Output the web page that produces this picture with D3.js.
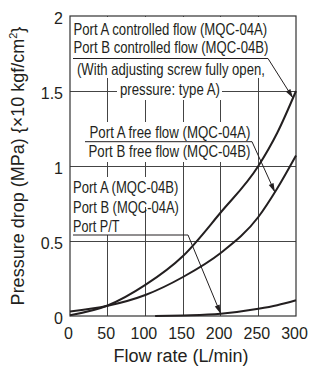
<!DOCTYPE html>
<html>
<head>
<meta charset="utf-8">
<script src="https://cdn.jsdelivr.net/npm/d3@7"></script>
<style>
body { margin: 0; background: #fff; }
svg { display: block; }
</style>
</head>
<body>
<div id="canvas"></div>
<script>
"use strict"

/* Data: flow rate (L/min) vs pressure drop (MPa) */
let flowTicks = [0, 50, 100, 150, 200, 250, 300];
let pressureTicks = [0, 0.5, 1, 1.5, 2];

/* controlled flow curve (MQC-04A port A / MQC-04B port B) */
let ctrlFlow = [0, 50, 100, 150, 200, 250, 275, 300];
let ctrlDrop = [0.005, 0.07, 0.207, 0.4, 0.69, 1.0, 1.22, 1.5];

/* free flow curve */
let freeFlow = [0, 50, 100, 150, 200, 250, 275, 300];
let freeDrop = [0.03, 0.068, 0.14, 0.26, 0.42, 0.66, 0.85, 1.07];

/* port P/T */
let ptFlow = [113, 150, 200, 250, 275, 300];
let ptDrop = [0, 0.004, 0.015, 0.048, 0.072, 0.105];

/* Configuration: drawing */
let svgWidth = 313;
let svgHeight = 367;
let ink = "#231f20";
let sans = "'Liberation Sans', Arial, Helvetica, sans-serif";
let narrow = "'Liberation Sans Narrow', 'Arial Narrow', 'Liberation Sans', Arial, sans-serif";

let svg = d3.select("#canvas")
    .append("svg")
    .attr("width", svgWidth)
    .attr("height", svgHeight);

let x = d3.scaleLinear().domain([0, 300]).range([70, 296]);
let y = d3.scaleLinear().domain([0, 2]).range([316, 16]);

/* grid */
let grid = svg.append("g")
    .attr("stroke", "#444")
    .attr("stroke-width", 1)
    .attr("shape-rendering", "crispEdges");

grid.selectAll("line.v")
    .data(flowTicks.slice(1, -1))
    .join("line")
    .attr("class", "v")
    .attr("x1", d => x(d)).attr("x2", d => x(d))
    .attr("y1", y(0)).attr("y2", y(2));

grid.selectAll("line.h")
    .data(pressureTicks.slice(1, -1))
    .join("line")
    .attr("class", "h")
    .attr("x1", x(0)).attr("x2", x(300))
    .attr("y1", d => y(d)).attr("y2", d => y(d));

/* white boxes behind the notes (they cut the grid) */
let masks = [
    [72, 17, 198, 61],
    [117, 78, 105, 22],
    [85, 122, 170, 40],
    [72, 177, 108, 30],
    [72, 207, 53, 28]
];
svg.selectAll("rect.mask")
    .data(masks)
    .join("rect")
    .attr("class", "mask")
    .attr("fill", "#fff")
    .attr("x", d => d[0]).attr("y", d => d[1])
    .attr("width", d => d[2]).attr("height", d => d[3]);

/* frame */
svg.append("rect")
    .attr("fill", "none")
    .attr("stroke", "#333")
    .attr("stroke-width", 1.2)
    .attr("x", x(0)).attr("y", y(2))
    .attr("width", x(300) - x(0))
    .attr("height", y(0) - y(2));

/* curves */
let line = d3.line()
    .x(d => x(d[0]))
    .y(d => y(d[1]))
    .curve(d3.curveMonotoneX);

let ctrlPts = d3.zip(ctrlFlow, ctrlDrop);
let freePts = d3.zip(freeFlow, freeDrop);
let ptPts = d3.zip(ptFlow, ptDrop);

svg.selectAll("path.curve")
    .data([ctrlPts, freePts, ptPts])
    .join("path")
    .attr("class", "curve")
    .attr("fill", "none")
    .attr("stroke", ink)
    .attr("stroke-width", 2)
    .attr("d", line);

/* axes */
let xAxis = svg.append("g")
    .attr("transform", `translate(-2,${y(0)})`)
    .call(d3.axisBottom(x).tickValues(flowTicks).tickSize(0).tickPadding(12));
xAxis.select(".domain").remove();

let yAxis = svg.append("g")
    .attr("transform", `translate(${x(0)},2)`)
    .call(d3.axisLeft(y).tickValues(pressureTicks).tickSize(0).tickPadding(7)
        .tickFormat(d => String(d)));
yAxis.select(".domain").remove();

svg.selectAll(".tick text")
    .attr("fill", ink)
    .attr("font-size", 16)
    .attr("font-family", sans);

/* axis titles */
svg.append("text")
    .attr("x", 181)
    .attr("y", 362)
    .attr("text-anchor", "middle")
    .attr("font-family", sans)
    .attr("font-size", 18)
    .attr("fill", ink)
    .text("Flow rate (L/min)");

let yTitle = svg.append("text")
    .attr("transform", "rotate(-90)")
    .attr("x", -166)
    .attr("y", 24)
    .attr("text-anchor", "middle")
    .attr("font-family", sans)
    .attr("font-size", 18)
    .attr("fill", ink);
yTitle.append("tspan").text("Pressure drop (MPa) {\u00d710 kgf/cm");
yTitle.append("tspan").attr("font-size", 11).attr("dy", -7).text("2");
yTitle.append("tspan").attr("dy", 7).text("}");

/* notes: condensed type, squeezed horizontally to the widths measured on the picture */
function note(left, base, width, str) {
    let t = svg.append("text")
        .attr("x", 0)
        .attr("y", 0)
        .attr("font-family", narrow)
        .attr("font-size", 16.5)
        .attr("fill", ink)
        .text(str);
    let natural = t.node().getComputedTextLength();
    t.attr("transform", `translate(${left},${base}) scale(${width / natural},1)`);
}

note(73.5, 35, 194, "Port A controlled flow (MQC-04A)");
note(73.5, 52.5, 195, "Port B controlled flow (MQC-04B)");
note(77, 75, 188, "(With adjusting screw fully open,");
note(120, 95, 100, "pressure: type A)");
note(89.5, 137.7, 161, "Port A free flow (MQC-04A)");
note(88.5, 157.3, 162, "Port B free flow (MQC-04B)");
note(73, 193.3, 105.5, "Port A (MQC-04B)");
note(73, 213.3, 106, "Port B (MQC-04A)");
note(73, 232.3, 46.5, "Port P/T");

/* read a curve's value off its drawn path */
function valueAt(pts, flow) {
    let tmp = svg.append("path").attr("d", line(pts));
    let node = tmp.node();
    let lo = 0, hi = node.getTotalLength();
    for (let i = 0; i < 40; i++) {
        let mid = (lo + hi) / 2;
        if (node.getPointAtLength(mid).x < x(flow)) lo = mid; else hi = mid;
    }
    let p = node.getPointAtLength(lo);
    tmp.remove();
    return y.invert(p.y);
}

/* leader lines with arrowheads pointing at the curves */
function leader(x0, yLine, x1, flow, pts) {
    let tipX = x(flow);
    let tipY = y(valueAt(pts, flow));
    svg.append("polyline")
        .attr("fill", "none")
        .attr("stroke", ink)
        .attr("stroke-width", 1)
        .attr("points", [[x0, yLine], [x1, yLine], [tipX, tipY]].join(" "));
    let dx = tipX - x1, dy = tipY - yLine;
    let len = Math.hypot(dx, dy);
    let ux = dx / len, uy = dy / len;
    let bx = tipX - ux * 9, by = tipY - uy * 9;
    svg.append("polygon")
        .attr("fill", ink)
        .attr("points", [[tipX, tipY], [bx - uy * 2.6, by + ux * 2.6], [bx + uy * 2.6, by - ux * 2.6]].join(" "));
}

leader(73, 58.5, 268, 296, ctrlPts);
leader(85, 141.7, 252, 272, freePts);
leader(73, 235, 188, 200, ptPts);
</script>
</body>
</html>
